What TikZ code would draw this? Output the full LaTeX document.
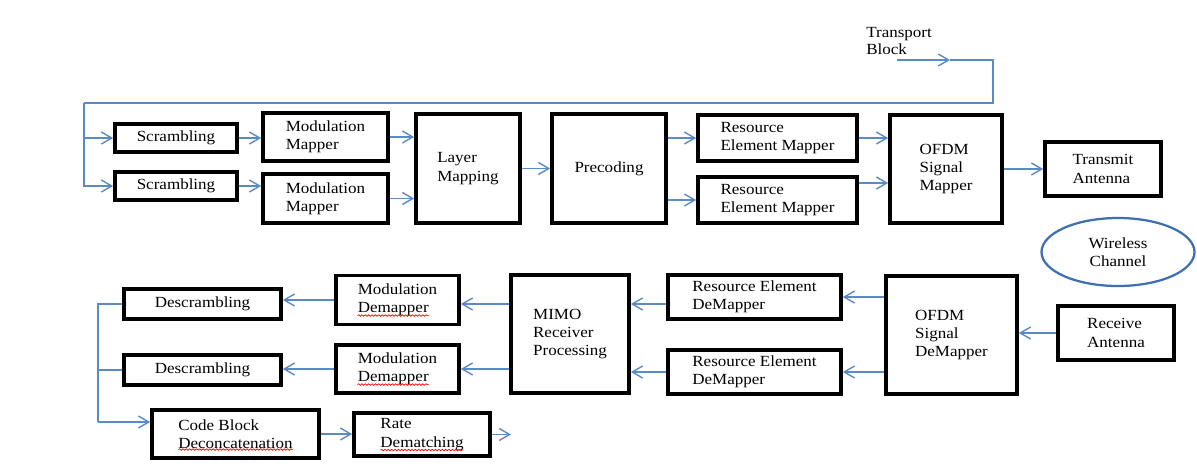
\documentclass[tikz,border=0pt]{standalone}
\usepackage{fontspec}
\setmainfont{Liberation Serif}[FakeStretch=1.1]
\usepackage{xcolor}
\usetikzlibrary{arrows.meta,positioning,shapes.geometric,calc,decorations.pathmorphing}

\definecolor{lineblue}{RGB}{91,139,199}
\definecolor{ellblue}{RGB}{62,111,176}

\begin{document}
\begin{tikzpicture}[
        x=0.025cm, y=-0.025cm,
        blk/.style 2 args={draw, line width=2.6pt, minimum width=#1*0.025cm, minimum height=#2*0.025cm,
            align=left, inner sep=1pt, font=\fontsize{11}{13}\selectfont},
        conn/.style={draw=lineblue, line width=1pt},
        arr/.style={conn, -{Straight Barb[length=2.6mm,width=3mm]}},
        spell/.style={draw=red, line width=0.5pt, decorate, decoration={snake, amplitude=0.55pt, segment length=2.4pt}}
    ]
    \useasboundingbox (0,0) rectangle (1197,463);

    % transmitter chain
    \node (scrA) [blk={122}{28}] at (176,138) {Scrambling};
    \node (scrB) [blk={122}{28}] at (176,186) {Scrambling};
    \node (modA) [blk={125}{48}] at (325.5,137) {Modulation\\Mapper};
    \node (modB) [blk={125}{49}] at (325.5,198.5) {Modulation\\Mapper};
    \node (layer) [blk={104}{109}] at (468,168.5) {Layer\\Mapping};
    \node (prec) [blk={114}{109}] at (609,168.5) {Precoding};
    \node (remA) [blk={159}{46}] at (777.5,138) {Resource\\Element Mapper};
    \node (remB) [blk={159}{46}] at (777.5,200) {Resource\\Element Mapper};
    \node (ofdmTx) [blk={112}{108}] at (946,169) {OFDM\\Signal\\Mapper};
    \node (txAnt) [blk={116}{54}] at (1103,169) {Transmit\\Antenna};
    \node (tb) [anchor=west, align=left, inner sep=0pt, font=\fontsize{11}{12}\selectfont] at (866,41) {Transport\\Block};

    % channel
    \node (wch) [draw=ellblue, line width=1.6pt, ellipse, minimum width=153*0.025cm, minimum height=68*0.025cm,
        align=center, inner sep=0pt, font=\fontsize{11}{13}\selectfont] at (1118,252) {Wireless\\Channel};

    % receiver chain
    \node (rxAnt) [blk={116}{54}] at (1116,333) {Receive\\Antenna};
    \node (ofdmRx) [blk={131}{118}] at (951.5,335) {OFDM\\Signal\\DeMapper};
    \node (redmA) [blk={173}{44}] at (754.5,297) {Resource Element\\DeMapper};
    \node (redmB) [blk={173}{44}] at (754.5,372) {Resource Element\\DeMapper};
    \node (mimo) [blk={118}{118}] at (570,334) {MIMO\\Receiver\\Processing};
    \node (mdA) [blk={123}{49}] at (397.5,300) {Modulation\\Demapper};
    \node (mdB) [blk={123}{48}] at (397.5,369) {Modulation\\Demapper};
    \node (descA) [blk={157}{30}] at (202.5,304) {Descrambling};
    \node (descB) [blk={157}{30}] at (202.5,370) {Descrambling};
    \node (cbd) [blk={167}{48}] at (235.5,434) {Code Block\\Deconcatenation};
    \node (rd) [blk={136}{43}] at (422,434.5) {Rate\\Dematching};

    % spell-check marks
    \draw[spell] ($(mdA.center)+(-40,15.5)$) -- ++(71,0);
    \draw[spell] ($(mdB.center)+(-40,15.5)$) -- ++(71,0);
    \draw[spell] ($(cbd.center)+(-57,15.5)$) -- ++(114,0);
    \draw[spell] ($(rd.center)+(-41.5,15.5)$) -- ++(83,0);

    \coordinate (tbIn) at (897,60);
    \coordinate (tbMid) at (950,60);
    \coordinate (tbTurn) at (993,60);
    \coordinate (busTop) at (84,103);
    \coordinate (busBot) at (98,422);
    \coordinate (rdOut) at (511,434.5);
    \coordinate (rbOut) at ($(remB.east)+(0,-17)$);
    \coordinate (raOut) at ($(redmA.west)+(0,7)$);
    \coordinate (maIn) at ($(mdA.east)+(0,4)$);

    % transport block feed
    \draw[arr] (tbIn) -- (tbMid);
    \draw[conn] (tbMid) -- (tbTurn) |- (busTop);
    \draw[arr] (busTop) |- (scrA.west);
    \draw[arr] (busTop) |- (scrB.west);

    \draw[arr] (scrA.east) -- (scrA.east -| modA.west);
    \draw[arr] (scrB.east) -- (scrB.east -| modB.west);
    \draw[arr] (modA.east) -- (modA.east -| layer.west);
    \draw[arr] (modB.east) -- (modB.east -| layer.west);
    \draw[arr] (layer.east) -- (layer.east -| prec.west);
    \draw[arr] (prec.east |- remA.west) -- (remA.west);
    \draw[arr] (prec.east |- remB.west) -- (remB.west);
    \draw[arr] (remA.east) -- (remA.east -| ofdmTx.west);
    \draw[arr] (rbOut) -- (rbOut -| ofdmTx.west);
    \draw[arr] (ofdmTx.east) -- (ofdmTx.east -| txAnt.west);

    \draw[arr] (rxAnt.west) -- (rxAnt.west -| ofdmRx.east);
    \draw[arr] (ofdmRx.west |- redmA.east) -- (redmA.east);
    \draw[arr] (ofdmRx.west |- redmB.east) -- (redmB.east);
    \draw[arr] (raOut) -- (raOut -| mimo.east);
    \draw[arr] (redmB.west) -- (redmB.west -| mimo.east);
    \draw[arr] (maIn -| mimo.west) -- (maIn);
    \draw[arr] (mimo.west |- mdB.east) -- (mdB.east);
    \draw[arr] (mdA.west) -- (mdA.west -| descA.east);
    \draw[arr] (mdB.west) -- (mdB.west -| descB.east);

    % descrambled streams to deconcatenation
    \draw[conn] (descA.west) -| (busBot);
    \draw[conn] (descB.west) -- (descB.west -| busBot);
    \draw[arr] (busBot) -- (busBot -| cbd.west);
    \draw[arr] (cbd.east) -- (cbd.east -| rd.west);
    \draw[arr] (rd.east) -- (rdOut);
\end{tikzpicture}
\end{document}
